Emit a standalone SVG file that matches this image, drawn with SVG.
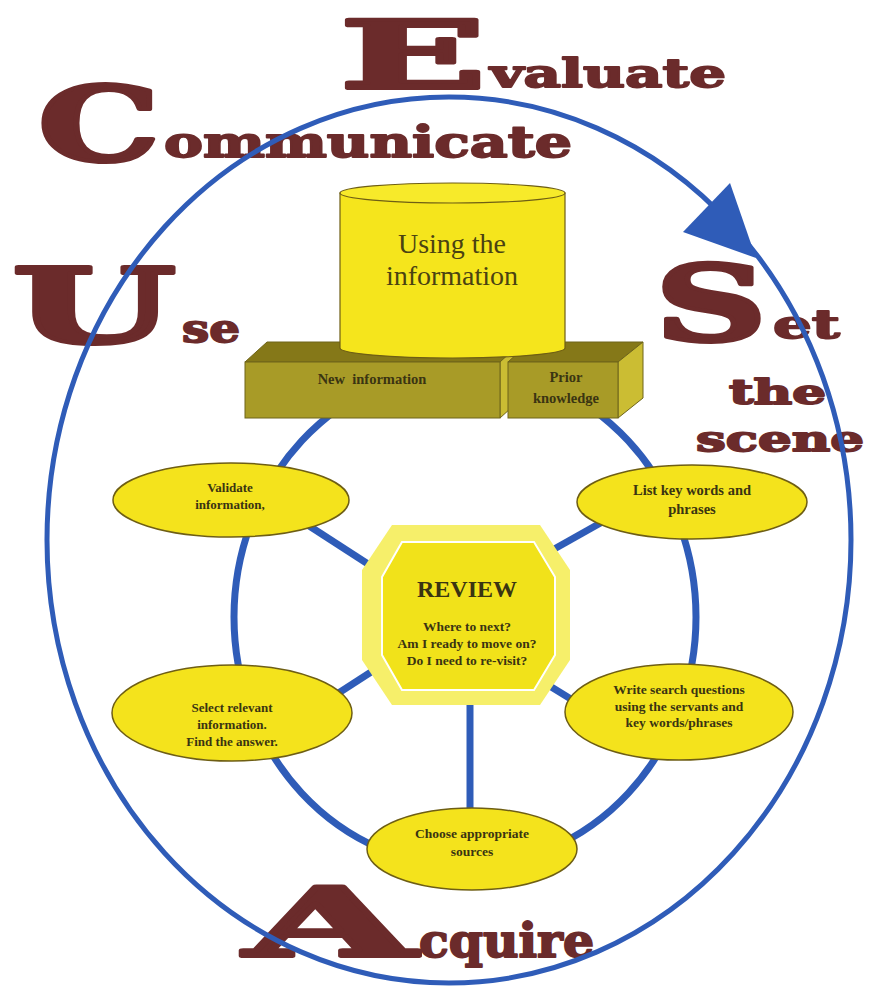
<svg xmlns="http://www.w3.org/2000/svg" width="870" height="991" viewBox="0 0 870 991">
<style>
.big{font-family:"DejaVu Serif","Liberation Serif",serif;font-weight:bold;fill:#6b2b2b;stroke:#6b2b2b;stroke-width:4;stroke-linejoin:round}
.sm{font-family:"DejaVu Serif","Liberation Serif",serif;font-weight:bold;fill:#6b2b2b;stroke:#6b2b2b;stroke-width:1.8;stroke-linejoin:round}
.blue{fill:none;stroke:#2f5cb8}
.spk{stroke:#2f5cb8;stroke-width:7}
.oval{fill:#f4e31c;stroke:#6e5e14;stroke-width:1.5}
.t{font-family:"Liberation Serif","Times New Roman",serif;font-weight:bold;fill:#3a3412;text-anchor:middle}
.front{fill:#a89b27;stroke:#6e641a;stroke-width:1}
.top{fill:#857818;stroke:#6e641a;stroke-width:1}
.side{fill:#cbbd33;stroke:#6e641a;stroke-width:1}
</style>
<rect width="870" height="991" fill="#ffffff"/>
<g id="letters">
<text class="big" x="340" y="88" font-size="94" textLength="146" lengthAdjust="spacingAndGlyphs">E</text>
<text class="sm" x="490" y="87" font-size="40" textLength="236" lengthAdjust="spacingAndGlyphs">valuate</text>
<text class="big" x="38" y="161" font-size="102" textLength="122" lengthAdjust="spacingAndGlyphs">C</text>
<text class="sm" x="164" y="157" font-size="42" textLength="408" lengthAdjust="spacingAndGlyphs">ommunicate</text>
<text class="big" x="12" y="343" font-size="102" textLength="164" lengthAdjust="spacingAndGlyphs">U</text>
<text class="sm" x="182" y="342" font-size="40" textLength="58" lengthAdjust="spacingAndGlyphs">se</text>
<text class="big" x="655" y="341" font-size="104" textLength="112" lengthAdjust="spacingAndGlyphs">S</text>
<text class="sm" x="773" y="338" font-size="40" textLength="67" lengthAdjust="spacingAndGlyphs">et</text>
<text class="sm" x="729" y="404" font-size="34" textLength="97" lengthAdjust="spacingAndGlyphs">the</text>
<text class="sm" x="696" y="451" font-size="36" textLength="168" lengthAdjust="spacingAndGlyphs">scene</text>
<text class="big" x="245" y="956" font-size="96" textLength="170" lengthAdjust="spacingAndGlyphs">A</text>
<text class="sm" x="419" y="957" font-size="46" textLength="175" lengthAdjust="spacingAndGlyphs">cquire</text>
</g>
<g id="connectors">
<ellipse class="blue" cx="449" cy="540" rx="402" ry="443" stroke-width="5"/>
<polygon points="730,183 683,232 756,258" fill="#2f5cb8"/>
<ellipse class="blue" cx="465" cy="617" rx="231" ry="249" stroke-width="7"/>
<line class="spk" x1="300" y1="520" x2="385" y2="575"/>
<line class="spk" x1="320" y1="705" x2="385" y2="663"/>
<line class="spk" x1="540" y1="557" x2="620" y2="512"/>
<line class="spk" x1="540" y1="680" x2="600" y2="717"/>
<line class="spk" x1="470" y1="700" x2="470" y2="815"/>
</g>
<g id="new-information">
<polygon class="top" points="245,362 267,342 522,342 500,362"/>
<polygon class="side" points="500,362 522,342 522,398 500,418"/>
<rect class="front" x="245" y="362" width="255" height="56"/>
<text class="t" x="372" y="384" font-size="14.5" xml:space="preserve">New  information</text>
</g>
<g id="prior-knowledge">
<polygon class="top" points="508,362 530,342 643,342 618,362"/>
<polygon class="side" points="618,362 643,342 643,398 618,418"/>
<rect class="front" x="508" y="362" width="110" height="56"/>
<text class="t" x="566" y="382" font-size="14.5">Prior</text>
<text class="t" x="566" y="403" font-size="14.5">knowledge</text>
</g>
<g id="using-information">
<path d="M340,193 L340,348 A112.5,10 0 0 0 565,348 L565,193 Z" fill="#f5e51c" stroke="#6e5e14" stroke-width="1.2"/>
<ellipse cx="452.5" cy="193" rx="112.5" ry="10" fill="#f7ea2a" stroke="#6e5e14" stroke-width="1.2"/>
<text x="452" y="253" font-family="Liberation Serif,Times New Roman,serif" font-size="28" fill="#4a4212" text-anchor="middle">Using the</text>
<text x="452" y="285" font-family="Liberation Serif,Times New Roman,serif" font-size="28" fill="#4a4212" text-anchor="middle">information</text>
</g>
<g id="review">
<polygon points="392,525 540,525 570,570 570,660 540,705 392,705 362,660 362,570" fill="#f6ef6a"/>
<polygon points="402,542 534,542 555,577 555,655 534,690 402,690 382,655 382,577" fill="#f1e21a" stroke="#ffffff" stroke-width="2"/>
<text class="t" x="467" y="597" font-size="24">REVIEW</text>
<text class="t" x="467" y="631" font-size="13.5">Where to next?</text>
<text class="t" x="467" y="648" font-size="13.5">Am I ready to move on?</text>
<text class="t" x="467" y="665" font-size="13.5">Do I need to re-visit?</text>
</g>
<g id="validate">
<ellipse class="oval" cx="231" cy="500" rx="118" ry="37"/>
<text class="t" x="230" y="492" font-size="13">Validate</text>
<text class="t" x="230" y="509" font-size="13">information,</text>
</g>
<g id="list-key-words">
<ellipse class="oval" cx="692" cy="502" rx="115" ry="37"/>
<text class="t" x="692" y="495" font-size="14.5">List key words and</text>
<text class="t" x="692" y="514" font-size="14.5">phrases</text>
</g>
<g id="select-relevant">
<ellipse class="oval" cx="232" cy="713" rx="120" ry="48"/>
<text class="t" x="232" y="712" font-size="13">Select relevant</text>
<text class="t" x="232" y="729" font-size="13">information.</text>
<text class="t" x="232" y="746" font-size="13">Find the answer.</text>
</g>
<g id="write-search">
<ellipse class="oval" cx="679" cy="712" rx="114" ry="48"/>
<text class="t" x="679" y="694" font-size="13.5">Write search questions</text>
<text class="t" x="679" y="711" font-size="13.5">using the servants and</text>
<text class="t" x="679" y="727" font-size="13.5">key words/phrases</text>
</g>
<g id="choose-sources">
<ellipse class="oval" cx="472" cy="849" rx="105" ry="41"/>
<text class="t" x="472" y="838" font-size="13.5">Choose appropriate</text>
<text class="t" x="472" y="856" font-size="13.5">sources</text>
</g>
</svg>
